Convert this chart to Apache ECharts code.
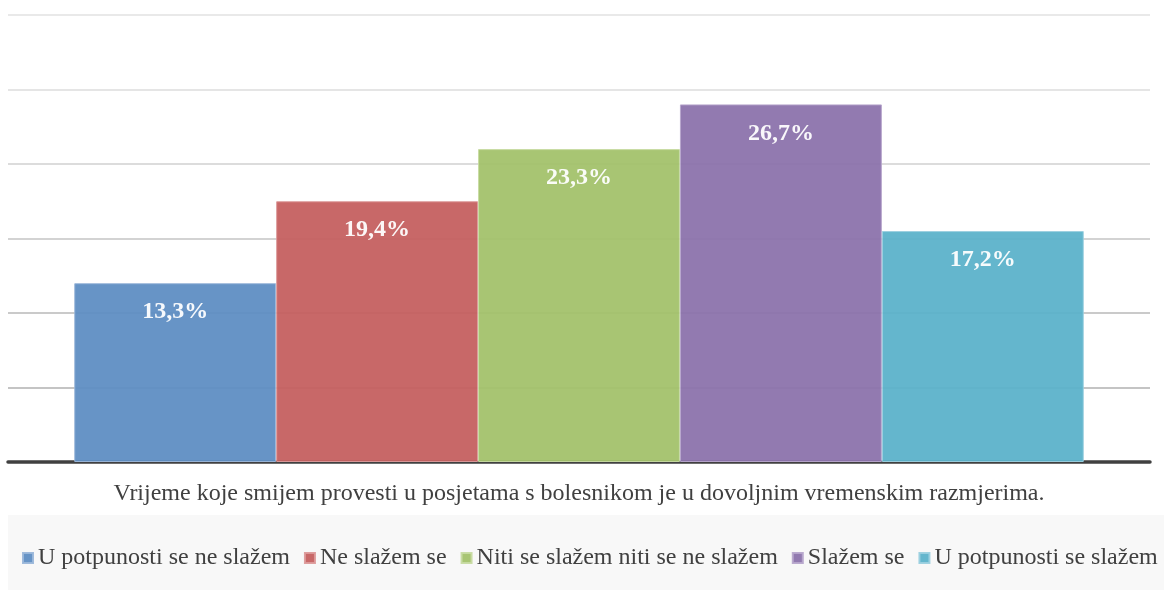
<!DOCTYPE html>
<html>
<head>
<meta charset="utf-8">
<script src="https://cdn.jsdelivr.net/npm/echarts@6/dist/echarts.min.js"></script>
<style>html,body{margin:0;padding:0;background:#fff}#c{width:1164px;height:592px}</style>
</head>
<body>
<div id="c"></div>
<script>
const category = ['Vrijeme koje smijem provesti u posjetama s bolesnikom je u dovoljnim vremenskim razmjerima.'];
const seriesNames = ['U potpunosti se ne slažem', 'Ne slažem se', 'Niti se slažem niti se ne slažem', 'Slažem se', 'U potpunosti se slažem'];
const counts = [24, 35, 42, 48, 31];
const percentLabels = ['13,3%', '19,4%', '23,3%', '26,7%', '17,2%'];
const colors = ['#5f8ec3', '#c56060', '#a3c26b', '#8c73ac', '#5cb2ca'];
const borderColors = ['#9bb7da', '#dc9a9a', '#c7dba2', '#b7a6cc', '#9bd0df'];

const chart = echarts.init(document.getElementById('c'), null, {renderer: 'canvas'});
const FONT = "'Liberation Serif', 'Times New Roman', serif";

const series = seriesNames.map((name, i) => ({
  name: name,
  type: 'bar',
  barGap: '0%',
  barCategoryGap: '11.6%',
  data: [counts[i]],
  itemStyle: { color: colors[i], opacity: 0.95, borderColor: borderColors[i], borderWidth: 1 },
  label: {
    show: true, position: 'insideTop', distance: 17,
    formatter: () => percentLabels[i],
    color: '#fff', fontFamily: FONT, fontWeight: 'bold', fontSize: 24
  },
  z: 3
}));

chart.setOption({
  animation: false,
  color: colors,
  graphic: [{
    type: 'rect', left: 8, top: 515, z: -10,
    shape: { width: 1156, height: 75 },
    style: { fill: '#f8f8f8' }
  }],
  grid: { left: 8, right: 14, top: 15, bottom: 130, containLabel: false },
  legend: {
    top: 546, left: 22, width: 1142, padding: 0,
    itemWidth: 10, itemHeight: 10, icon: 'rect', itemGap: 14,
    textStyle: { fontFamily: FONT, fontSize: 24, color: '#404040' },
    data: seriesNames
  },
  xAxis: {
    type: 'category', data: category,
    axisLine: { show: true, lineStyle: { color: '#404040', width: 3.5 } },
    axisTick: { show: false },
    axisLabel: { fontFamily: FONT, fontSize: 24, color: '#404040', margin: 20 }
  },
  yAxis: {
    type: 'value', min: 0, max: 60, interval: 10,
    axisLine: { show: false }, axisTick: { show: false }, axisLabel: { show: false },
    splitLine: { show: true, lineStyle: { color: ['#b0b0b0', '#b0b0b0', '#b8b8b8', '#c4c4c4', '#d0d0d0', '#dcdcdc', '#e2e2e2'], width: 1.5 } }
  },
  series: series
});
</script>
</body>
</html>
